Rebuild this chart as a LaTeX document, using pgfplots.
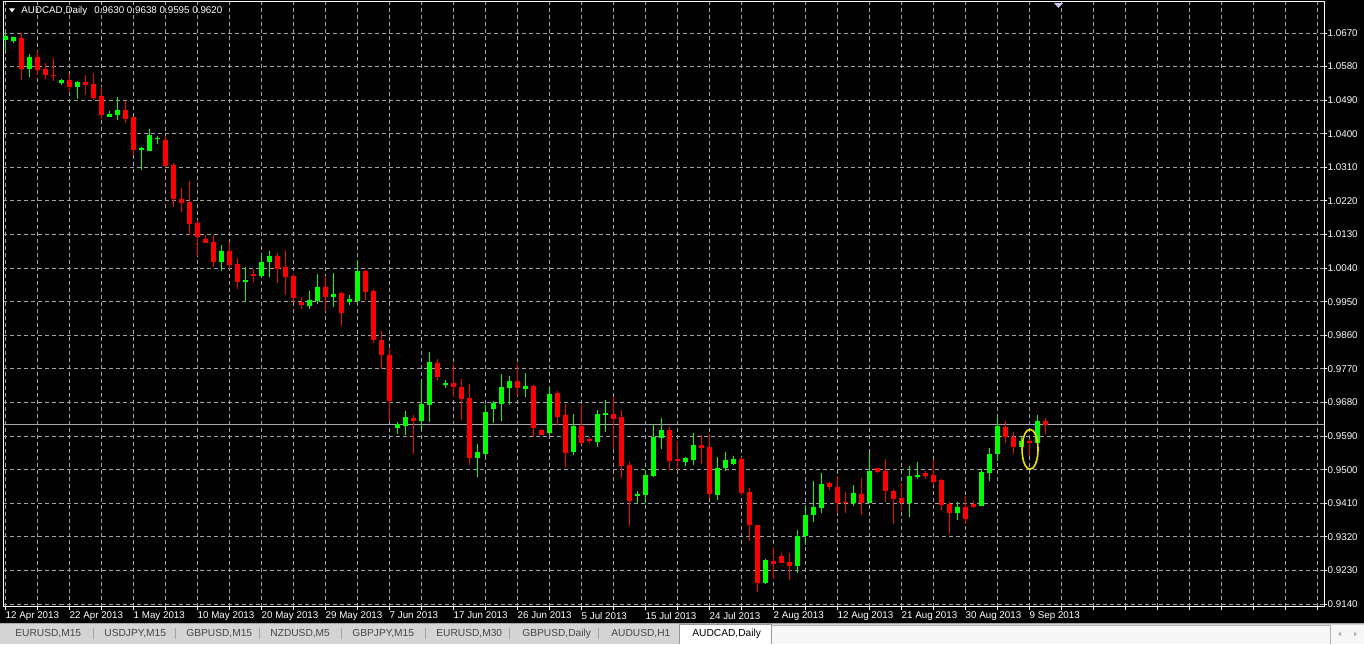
\documentclass[border=0pt]{standalone}
\usepackage{fontspec}
\setmainfont{Liberation Sans}
\usepackage{pgfplots}
\pgfplotsset{compat=1.18}
\usepackage{pgfplotstable}

\definecolor{mtgreen}{RGB}{0,255,0}
\definecolor{mtred}{RGB}{255,0,0}
\definecolor{mtgrid}{RGB}{160,164,170}
\definecolor{bidline}{RGB}{165,168,178}
\definecolor{tabbg}{RGB}{212,212,212}
\definecolor{tabtext}{RGB}{70,70,70}
\definecolor{circ}{RGB}{240,225,0}

% bullish candles: bar index, open, high, low, close
\pgfplotstableread{
i o h l c
0 1.0651 1.0670 1.0622 1.0662
1 1.0649 1.0660 1.0642 1.0658
3 1.0574 1.0614 1.0553 1.0605
7 1.0535 1.0548 1.0531 1.0544
9 1.0526 1.0542 1.0494 1.0539
13 1.0446 1.0460 1.0444 1.0453
14 1.0449 1.0498 1.0437 1.0464
17 1.0357 1.0365 1.0303 1.0362
18 1.0355 1.0412 1.0355 1.0396
19 1.0385 1.0394 1.0373 1.0389
27 1.0056 1.0101 1.0033 1.0085
30 1.0003 1.0044 0.9949 1.0008
32 1.0019 1.0074 1.0014 1.0056
33 1.0056 1.0085 1.0015 1.0072
38 0.9938 0.9978 0.9931 0.9955
39 0.9953 1.0024 0.9944 0.9990
41 0.9963 1.0026 0.9935 0.9971
43 0.9949 0.9969 0.9942 0.9958
44 0.9953 1.0062 0.9940 1.0033
49 0.9612 0.9628 0.9596 0.9622
50 0.9617 0.9656 0.9592 0.9642
52 0.9630 0.9737 0.9610 0.9676
53 0.9674 0.9815 0.9628 0.9788
55 0.9726 0.9740 0.9719 0.9733
59 0.9531 0.9569 0.9481 0.9547
60 0.9542 0.9672 0.9535 0.9654
61 0.9662 0.9683 0.9626 0.9679
62 0.9676 0.9756 0.9631 0.9722
63 0.9719 0.9751 0.9674 0.9738
65 0.9717 0.9758 0.9695 0.9724
68 0.9597 0.9721 0.9594 0.9703
71 0.9547 0.9649 0.9538 0.9617
74 0.9574 0.9660 0.9561 0.9649
75 0.9647 0.9687 0.9601 0.9653
79 0.9429 0.9442 0.9411 0.9435
80 0.9433 0.9499 0.9410 0.9485
81 0.9483 0.9620 0.9481 0.9588
82 0.9585 0.9638 0.9556 0.9606
85 0.9520 0.9535 0.9510 0.9531
86 0.9526 0.9599 0.9512 0.9567
89 0.9433 0.9533 0.9419 0.9504
90 0.9504 0.9547 0.9497 0.9526
91 0.9515 0.9537 0.9513 0.9529
95 0.9195 0.9261 0.9194 0.9258
99 0.9242 0.9338 0.9224 0.9322
100 0.9322 0.9403 0.9297 0.9379
101 0.9379 0.9469 0.9360 0.9401
102 0.9397 0.9490 0.9385 0.9462
106 0.9411 0.9458 0.9403 0.9437
108 0.9411 0.9544 0.9410 0.9497
113 0.9410 0.9510 0.9374 0.9483
114 0.9481 0.9520 0.9474 0.9486
119 0.9385 0.9413 0.9365 0.9401
122 0.9403 0.9501 0.9403 0.9494
123 0.9492 0.9558 0.9470 0.9542
124 0.9542 0.9640 0.9522 0.9617
127 0.9561 0.9588 0.9561 0.9576
129 0.9572 0.9647 0.9572 0.9630
}\upbars

% bearish candles: bar index, open, high, low, close
\pgfplotstableread{
i o h l c
2 1.0657 1.0669 1.0544 1.0573
4 1.0605 1.0621 1.0557 1.0571
5 1.0574 1.0589 1.0548 1.0558
6 1.0558 1.0603 1.0542 1.0555
8 1.0544 1.0560 1.0515 1.0525
10 1.0539 1.0558 1.0505 1.0530
11 1.0533 1.0564 1.0490 1.0496
12 1.0501 1.0525 1.0439 1.0451
15 1.0464 1.0487 1.0428 1.0439
16 1.0444 1.0446 1.0342 1.0357
20 1.0383 1.0394 1.0310 1.0314
21 1.0317 1.0321 1.0203 1.0226
22 1.0226 1.0255 1.0190 1.0215
23 1.0217 1.0274 1.0128 1.0158
24 1.0160 1.0169 1.0072 1.0123
25 1.0119 1.0128 1.0106 1.0108
26 1.0110 1.0128 1.0044 1.0056
28 1.0087 1.0110 1.0038 1.0048
29 1.0051 1.0067 0.9985 1.0003
31 1.0024 1.0038 1.0003 1.0019
34 1.0072 1.0081 0.9999 1.0038
35 1.0044 1.0089 0.9969 1.0017
36 1.0019 1.0024 0.9949 0.9960
37 0.9949 0.9962 0.9931 0.9942
40 0.9990 1.0019 0.9924 0.9963
42 0.9973 0.9976 0.9885 0.9921
45 1.0031 1.0035 0.9955 0.9976
46 0.9979 0.9983 0.9840 0.9847
47 0.9847 0.9872 0.9770 0.9808
48 0.9806 0.9822 0.9631 0.9683
51 0.9638 0.9647 0.9542 0.9630
54 0.9787 0.9797 0.9737 0.9747
56 0.9733 0.9785 0.9695 0.9721
57 0.9722 0.9744 0.9633 0.9690
58 0.9692 0.9730 0.9512 0.9531
64 0.9737 0.9785 0.9697 0.9719
66 0.9724 0.9728 0.9588 0.9612
67 0.9606 0.9608 0.9592 0.9594
69 0.9706 0.9710 0.9620 0.9642
70 0.9647 0.9676 0.9508 0.9545
72 0.9617 0.9672 0.9569 0.9572
73 0.9581 0.9587 0.9571 0.9576
76 0.9649 0.9695 0.9556 0.9637
77 0.9640 0.9660 0.9478 0.9510
78 0.9512 0.9520 0.9349 0.9417
83 0.9606 0.9613 0.9499 0.9524
84 0.9529 0.9576 0.9499 0.9522
87 0.9567 0.9592 0.9515 0.9558
88 0.9561 0.9596 0.9424 0.9435
92 0.9529 0.9533 0.9431 0.9437
93 0.9440 0.9451 0.9310 0.9352
94 0.9352 0.9352 0.9172 0.9195
96 0.9256 0.9294 0.9206 0.9247
97 0.9269 0.9277 0.9249 0.9251
98 0.9253 0.9277 0.9204 0.9242
103 0.9465 0.9467 0.9445 0.9453
104 0.9453 0.9483 0.9385 0.9411
105 0.9413 0.9440 0.9385 0.9410
107 0.9435 0.9478 0.9379 0.9411
109 0.9504 0.9504 0.9492 0.9494
110 0.9497 0.9529 0.9413 0.9444
111 0.9442 0.9449 0.9354 0.9422
112 0.9424 0.9463 0.9390 0.9411
115 0.9492 0.9496 0.9476 0.9483
116 0.9486 0.9526 0.9458 0.9467
117 0.9472 0.9476 0.9392 0.9406
118 0.9408 0.9413 0.9328 0.9385
120 0.9401 0.9429 0.9354 0.9369
121 0.9408 0.9415 0.9397 0.9399
125 0.9615 0.9630 0.9571 0.9587
126 0.9587 0.9601 0.9542 0.9561
128 0.9576 0.9581 0.9537 0.9571
130 0.9630 0.9638 0.9595 0.9620
}\downbars

\begin{document}
\begin{tikzpicture}
\fill[black] (0,0) rectangle (682pt,322pt);
\useasboundingbox (0,0) rectangle (682pt,322pt);

% tab strip
\fill[tabbg] (0,0) rectangle (682pt,10.5pt);
\draw[gray!70, line width=0.5pt] (0,10.5pt) -- (682pt,10.5pt);
\fill[white!94!gray] (385.5pt,0) rectangle (682pt,9.5pt);
\draw[gray!60, line width=0.5pt] (385.5pt,0) -- (385.5pt,9.5pt) -- (665pt,9.5pt) -- (665pt,0);
\fill[white] (339.5pt,0) rectangle (385.5pt,10pt);
\draw[gray!80, line width=0.5pt] (339.5pt,0) -- (339.5pt,10pt) -- (385.5pt,10pt) -- (385.5pt,0);
\foreach \sx in {46.5,87.5,129.5,170.5,212.5,254.5,299}
  \draw[gray!70, line width=0.5pt] (\sx pt,2.5pt) -- (\sx pt,8pt);
\begin{scope}[every node/.style={anchor=west, inner sep=0pt, text=tabtext, font=\fontsize{5.1pt}{6pt}\selectfont}]
\node at (7.5pt,5pt) {EURUSD,M15};
\node at (52pt,5pt) {USDJPY,M15};
\node at (93pt,5pt) {GBPUSD,M15};
\node at (135pt,5pt) {NZDUSD,M5};
\node at (176pt,5pt) {GBPJPY,M15};
\node at (218pt,5pt) {EURUSD,M30};
\node at (261pt,5pt) {GBPUSD,Daily};
\node at (305.5pt,5pt) {AUDUSD,H1};
\node[text=black] at (346pt,5pt) {AUDCAD,Daily};
\end{scope}
\fill[gray!60] (670.5pt,3.8pt) -- (670.5pt,6.2pt) -- (669pt,5pt) -- cycle;
\fill[gray!60] (677pt,3.8pt) -- (677pt,6.2pt) -- (678.5pt,5pt) -- cycle;

\begin{axis}[
  at={(1.75pt,18.65pt)}, anchor=south west,
  scale only axis, width=660.4pt, height=302.6pt,
  xmin=-0.225, xmax=164.875, ymin=0.913275, ymax=1.075441,
  axis background/.style={fill=black},
  axis line style={white, line width=0.5pt},
  xtick={0,4,...,164},
  xticklabels={12 Apr 2013,,22 Apr 2013,,1 May 2013,,10 May 2013,,20 May 2013,,29 May 2013,,7 Jun 2013,,17 Jun 2013,,26 Jun 2013,,5 Jul 2013,,15 Jul 2013,,24 Jul 2013,,2 Aug 2013,,12 Aug 2013,,21 Aug 2013,,30 Aug 2013,,9 Sep 2013},
  ytick={0.9140,0.9230,0.9320,0.9410,0.9500,0.9590,0.9680,0.9770,0.9860,0.9950,1.0040,1.0130,1.0220,1.0310,1.0400,1.0490,1.0580,1.0670},
  yticklabels={0.9140,0.9230,0.9320,0.9410,0.9500,0.9590,0.9680,0.9770,0.9860,0.9950,1.0040,1.0130,1.0220,1.0310,1.0400,1.0490,1.0580,1.0670},
  xtick pos=bottom, ytick pos=right, yticklabel pos=right,
  tick align=outside, major tick length=1.5pt,
  tick style={white, line width=0.5pt},
  grid=major,
  major grid style={mtgrid, line width=0.5pt, dash pattern=on 2pt off 1.5pt},
  ticklabel style={font=\fontsize{4.9pt}{5.5pt}\selectfont, text=white, inner sep=0pt},
  xticklabel style={anchor=north west, yshift=-1pt},
  yticklabel style={anchor=west},
]
% bid line
\addplot[bidline, line width=0.5pt] coordinates {(-0.225,0.9620) (164.875,0.9620)};
% wicks
\addplot[mtgreen, line width=0.5pt, quiver={u=0, v=\thisrow{h}-\thisrow{l}}] table[x=i, y=l] {\upbars};
\addplot[mtred, line width=0.5pt, quiver={u=0, v=\thisrow{h}-\thisrow{l}}] table[x=i, y=l] {\downbars};
% bodies
\addplot[mtgreen, line width=2.5pt, quiver={u=0, v=\thisrow{c}-\thisrow{o}}] table[x=i, y=o] {\upbars};
\addplot[mtred, line width=2.5pt, quiver={u=0, v=\thisrow{o}-\thisrow{c}}] table[x=i, y=c] {\downbars};
% highlight
\draw[circ, line width=0.8pt] (axis cs:128.09,0.95545) ellipse [x radius=4pt, y radius=10pt];
% bid label
\node[anchor=west, fill=white, text=black, inner xsep=0.8pt, inner ysep=0pt, minimum height=7pt, font=\fontsize{4.9pt}{5.5pt}\selectfont] at (axis cs:164.875,0.9620) [xshift=2.3pt] {0.9620};
\end{axis}

% header
\fill[white] (4.5pt,317.8pt) -- (7.5pt,317.8pt) -- (6pt,315.8pt) -- cycle;
\node[anchor=west, inner sep=0pt, text=white, font=\fontsize{4.9pt}{5.5pt}\selectfont] at (10.5pt,316.5pt) {AUDCAD,Daily\hspace{3.5pt}0.9630 0.9638 0.9595 0.9620};
% shift marker
\fill[gray!50!blue!30!white] (527pt,320.5pt) -- (531.5pt,320.5pt) -- (529.25pt,318pt) -- cycle;
\end{tikzpicture}
\end{document}
